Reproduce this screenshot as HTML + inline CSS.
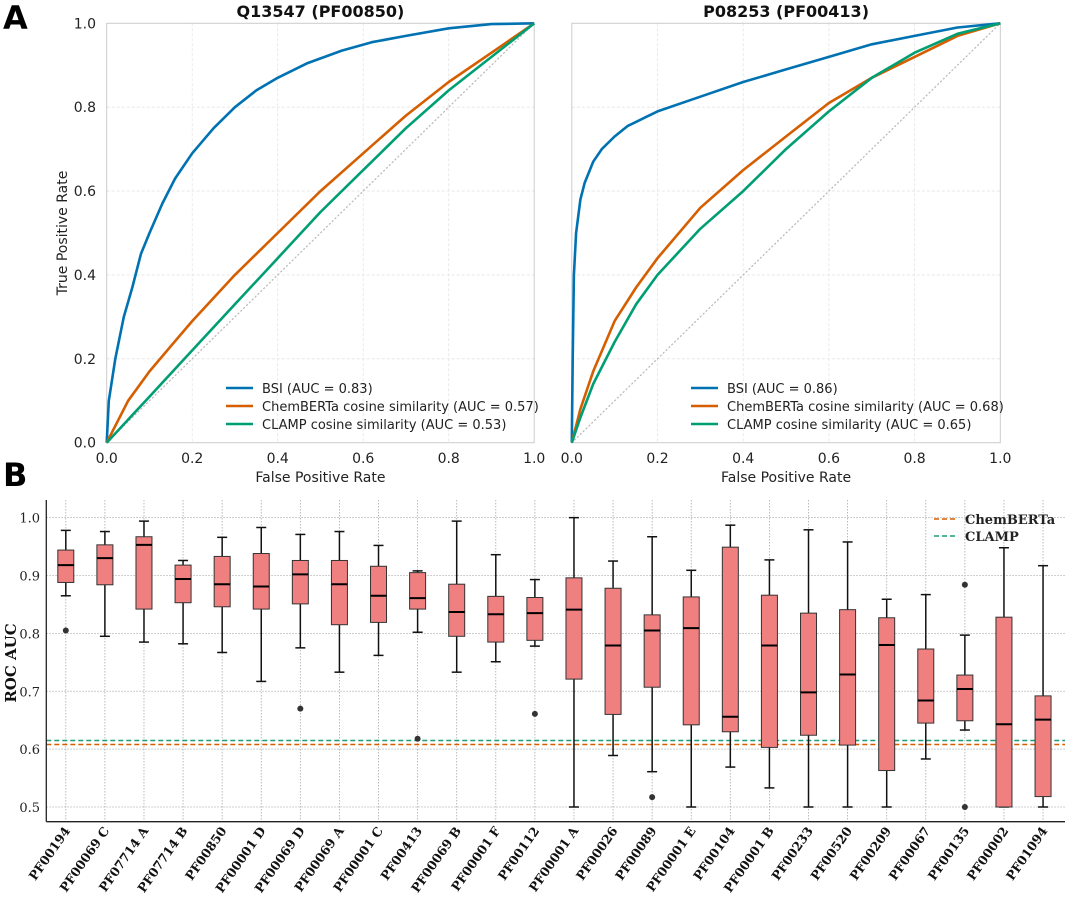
<!DOCTYPE html>
<html><head><meta charset="utf-8">
<style>
html,body{margin:0;padding:0;background:#fff;}
svg{display:block;}
.sans{font-family:"DejaVu Sans","Liberation Sans",sans-serif;}
.serif{font-family:"DejaVu Serif","Liberation Serif",serif;}
</style></head>
<body>
<svg id="fig" width="1065" height="897" viewBox="0 0 1065 897" xmlns="http://www.w3.org/2000/svg">
<text x="3" y="29" class="sans" font-size="32" font-weight="bold">A</text>
<text x="3" y="486" class="sans" font-size="32" font-weight="bold">B</text>
<g id="roc"></g>
<g id="box"></g>
</svg>
<script>
// ---------- ROC data ----------
const rocTitles = ["Q13547 (PF00850)", "P08253 (PF00413)"];
const seriesNames = ["BSI", "ChemBERTa cosine similarity", "CLAMP cosine similarity"];
const seriesColors = ["#0072b2", "#d55e00", "#009e73"];
const aucLeft = [0.83, 0.57, 0.53];
const aucRight = [0.86, 0.68, 0.65];
const leftBsiFpr = [0,0.005,0.02,0.04,0.06,0.08,0.1,0.13,0.16,0.2,0.25,0.3,0.35,0.4,0.47,0.55,0.62,0.7,0.8,0.9,1];
const leftBsiTpr = [0,0.1,0.2,0.3,0.37,0.45,0.5,0.57,0.63,0.69,0.75,0.8,0.84,0.87,0.905,0.935,0.955,0.97,0.988,0.998,1];
const leftChemFpr = [0,0.05,0.1,0.15,0.2,0.3,0.4,0.5,0.6,0.7,0.8,0.9,1];
const leftChemTpr = [0,0.1,0.17,0.23,0.29,0.4,0.5,0.6,0.69,0.78,0.86,0.93,1];
const leftClampFpr = [0,0.1,0.2,0.3,0.4,0.5,0.6,0.7,0.8,0.9,1];
const leftClampTpr = [0,0.11,0.22,0.33,0.44,0.55,0.65,0.75,0.84,0.92,1];
const rightBsiFpr = [0,0.002,0.005,0.01,0.02,0.03,0.05,0.07,0.1,0.13,0.17,0.2,0.3,0.4,0.5,0.6,0.7,0.8,0.9,1];
const rightBsiTpr = [0,0.2,0.4,0.5,0.58,0.62,0.67,0.7,0.73,0.755,0.775,0.79,0.825,0.86,0.89,0.92,0.95,0.97,0.99,1];
const rightChemFpr = [0,0.02,0.05,0.1,0.15,0.2,0.3,0.4,0.5,0.6,0.7,0.8,0.9,1];
const rightChemTpr = [0,0.08,0.17,0.29,0.37,0.44,0.56,0.65,0.73,0.81,0.87,0.92,0.97,1];
const rightClampFpr = [0,0.02,0.05,0.1,0.15,0.2,0.3,0.4,0.5,0.6,0.7,0.8,0.9,1];
const rightClampTpr = [0,0.06,0.14,0.24,0.33,0.4,0.51,0.6,0.7,0.79,0.87,0.93,0.975,1];
const rocTicks = [0,0.2,0.4,0.6,0.8,1.0];

// ---------- Box data ----------
const families = ["PF00194","PF00069 C","PF07714 A","PF07714 B","PF00850","PF00001 D","PF00069 D","PF00069 A","PF00001 C","PF00413","PF00069 B","PF00001 F","PF00112","PF00001 A","PF00026","PF00089","PF00001 E","PF00104","PF00001 B","PF00233","PF00520","PF00209","PF00067","PF00135","PF00002","PF01094"];
const whiskerLow = [0.865,0.795,0.785,0.782,0.767,0.717,0.775,0.733,0.762,0.802,0.733,0.751,0.778,0.5,0.589,0.561,0.5,0.569,0.533,0.5,0.5,0.5,0.583,0.633,0.5,0.5];
const q1 = [0.888,0.884,0.842,0.853,0.846,0.842,0.851,0.815,0.819,0.842,0.795,0.785,0.788,0.721,0.660,0.707,0.642,0.630,0.603,0.624,0.607,0.563,0.645,0.649,0.5,0.518];
const medians = [0.918,0.930,0.953,0.894,0.885,0.881,0.902,0.885,0.865,0.861,0.837,0.833,0.835,0.841,0.779,0.805,0.809,0.656,0.779,0.698,0.729,0.780,0.684,0.704,0.643,0.651];
const q3 = [0.944,0.953,0.967,0.918,0.933,0.938,0.926,0.926,0.916,0.905,0.885,0.864,0.862,0.896,0.878,0.832,0.863,0.949,0.866,0.835,0.841,0.827,0.773,0.728,0.828,0.692];
const whiskerHigh = [0.978,0.976,0.994,0.926,0.966,0.983,0.971,0.976,0.952,0.908,0.994,0.936,0.893,1.0,0.925,0.967,0.909,0.987,0.927,0.979,0.958,0.859,0.867,0.797,0.948,0.917];
const outlierIdx = [0,6,9,12,15,23,23];
const outlierVal = [0.805,0.670,0.618,0.661,0.517,0.884,0.5];
const refNames = ["ChemBERTa","CLAMP"];
const refValues = [0.608,0.615];
const refColors = ["#d55e00","#1a9e77"];
const boxTicks = [0.5,0.6,0.7,0.8,0.9,1.0];

const NS = "http://www.w3.org/2000/svg";
function mk(tag, attrs, parent){const e=document.createElementNS(NS,tag);for(const k in attrs)e.setAttribute(k,attrs[k]);parent.appendChild(e);return e;}

// ---------- ROC panels ----------
const rocG = document.getElementById('roc');
const panels = [
 {x0:106.7,x1:534.2,fpr:[leftBsiFpr,leftChemFpr,leftClampFpr],tpr:[leftBsiTpr,leftChemTpr,leftClampTpr],auc:aucLeft,legX:226,showY:true},
 {x0:571.8,x1:1000.3,fpr:[rightBsiFpr,rightChemFpr,rightClampFpr],tpr:[rightBsiTpr,rightChemTpr,rightClampTpr],auc:aucRight,legX:691,showY:false}
];
const yTop=23.3, yBot=442.7;
panels.forEach((p,pi)=>{
  const g=mk('g',{},rocG);
  
  
  const sx=v=>p.x0+v*(p.x1-p.x0), sy=v=>yBot-v*(yBot-yTop);
  rocTicks.forEach(t=>{
    if(t>0&&t<1){
      const gl=mk('line',{x1:sx(t),x2:sx(t),y1:yTop,y2:yBot,stroke:'#e4e4e4','stroke-width':0.8,'stroke-dasharray':'3,2'},g);
      
      
      const gl2=mk('line',{x1:p.x0,x2:p.x1,y1:sy(t),y2:sy(t),stroke:'#e4e4e4','stroke-width':0.8,'stroke-dasharray':'3,2'},g);
      
      
    }
    const tx=mk('text',{x:sx(t),y:463,'text-anchor':'middle','font-size':14,fill:'#222',class:'sans'},g);
    tx.textContent=t.toFixed(1);
    
    
    if(p.showY){
      const ty=mk('text',{x:96,y:sy(t)+5,'text-anchor':'end','font-size':14,fill:'#222',class:'sans'},g);
      ty.textContent=t.toFixed(1);
      
      
    }
  });
  const fr=mk('rect',{x:p.x0,y:yTop,width:p.x1-p.x0,height:yBot-yTop,fill:'none',stroke:'#cccccc','stroke-width':1},g);
  
  
  const diag=mk('line',{x1:sx(0),y1:sy(0),x2:sx(1),y2:sy(1),stroke:'#bbbbbb','stroke-width':1.3,'stroke-dasharray':'1,3','stroke-linecap':'round'},g);
  
  
  for(let s=0;s<3;s++){
    const pts=p.fpr[s].map((f,i)=>sx(f).toFixed(1)+','+sy(p.tpr[s][i]).toFixed(1)).join(' ');
    const pl=mk('polyline',{points:pts,fill:'none',stroke:seriesColors[s],'stroke-width':2.6,'stroke-linejoin':'round'},g);
    
    
    const ly=388+s*18;
    const ll=mk('line',{x1:p.legX,x2:p.legX+27,y1:ly,y2:ly,stroke:seriesColors[s],'stroke-width':2.6},g);
    
    
    const lt=mk('text',{x:p.legX+36,y:ly+5,'font-size':13,fill:'#222',class:'sans'},g);
    lt.textContent=seriesNames[s]+' (AUC = '+p.auc[s].toFixed(2)+')';
    
    
  }
  const tt=mk('text',{x:(p.x0+p.x1)/2,y:17,'text-anchor':'middle','font-size':16,'font-weight':'bold',fill:'#111',class:'sans'},g);
  tt.textContent=rocTitles[pi];
  
  
  const xl=mk('text',{x:(p.x0+p.x1)/2,y:482,'text-anchor':'middle','font-size':14,fill:'#222',class:'sans'},g);
  xl.textContent='False Positive Rate';
  
  
  if(p.showY){
    const yl=mk('text',{x:0,y:0,'text-anchor':'middle','font-size':14,fill:'#222',class:'sans',transform:'translate(67,'+((yTop+yBot)/2)+') rotate(-90)'},g);
    yl.textContent='True Positive Rate';
    
    
  }
});

// ---------- Box plot ----------
const bg=document.getElementById('box');
const bx0=46.3, step=39.09, firstX=65.8, bBot=821.7;
const vy=v=>807-(v-0.5)*578.7;
const cx=i=>firstX+i*step;
boxTicks.forEach(t=>{
  const gl=mk('line',{x1:bx0,x2:1065,y1:vy(t),y2:vy(t),stroke:'#aaa','stroke-width':0.8,'stroke-dasharray':'1.5,1.5'},bg);
  
  
  const tl=mk('text',{x:40,y:vy(t)+5,'text-anchor':'end','font-size':13,fill:'#222',class:'serif'},bg);
  tl.textContent=t.toFixed(1);
  
  
});
families.forEach((f,i)=>{
  const gl=mk('line',{x1:cx(i),x2:cx(i),y1:500,y2:bBot,stroke:'#aaa','stroke-width':0.8,'stroke-dasharray':'1.5,1.5'},bg);
  
  
});
refValues.forEach((v,i)=>{
  const l=mk('line',{x1:bx0,x2:1065,y1:vy(v),y2:vy(v),stroke:refColors[i],'stroke-width':1.5,'stroke-dasharray':'5,3'},bg);
  
  
});
const bw=16, cw=8;
families.forEach((f,i)=>{
  const g=mk('g',{},bg);
  
  
  const x=cx(i);
  mk('line',{x1:x,x2:x,y1:vy(whiskerHigh[i]),y2:vy(q3[i]),stroke:'#111','stroke-width':1.5},g);
  mk('line',{x1:x,x2:x,y1:vy(q1[i]),y2:vy(whiskerLow[i]),stroke:'#111','stroke-width':1.5},g);
  mk('line',{x1:x-cw/2-1,x2:x+cw/2+1,y1:vy(whiskerHigh[i]),y2:vy(whiskerHigh[i]),stroke:'#111','stroke-width':1.5},g);
  mk('line',{x1:x-cw/2-1,x2:x+cw/2+1,y1:vy(whiskerLow[i]),y2:vy(whiskerLow[i]),stroke:'#111','stroke-width':1.5},g);
  mk('rect',{x:x-bw/2,y:vy(q3[i]),width:bw,height:vy(q1[i])-vy(q3[i]),fill:'#f08080',stroke:'#333','stroke-width':1},g);
  mk('line',{x1:x-bw/2,x2:x+bw/2,y1:vy(medians[i]),y2:vy(medians[i]),stroke:'#000','stroke-width':2},g);
  const tl=mk('text',{x:0,y:0,'text-anchor':'end','font-size':12.5,'font-weight':'bold',fill:'#111',class:'serif',transform:'translate('+(x+5)+','+(bBot+9)+') rotate(-55)'},bg);
  tl.textContent=f;
  
  
});
outlierIdx.forEach((ix,k)=>{
  const c=mk('circle',{cx:cx(ix),cy:vy(outlierVal[k]),r:3,fill:'#333'},bg);
  
  
});
const sp1=mk('line',{x1:bx0,x2:bx0,y1:500,y2:bBot,stroke:'#222','stroke-width':1.3},bg);


const sp2=mk('line',{x1:bx0,x2:1065,y1:bBot,y2:bBot,stroke:'#222','stroke-width':1.3},bg);


const yt=mk('text',{x:0,y:0,'text-anchor':'middle','font-size':15,'font-weight':'bold',fill:'#111',class:'serif',transform:'translate(16,663) rotate(-90)'},bg);
yt.textContent='ROC AUC';


refNames.forEach((n,i)=>{
  const ly=519+i*17;
  const l=mk('line',{x1:934,x2:956,y1:ly,y2:ly,stroke:refColors[i],'stroke-width':1.5,'stroke-dasharray':'5,3'},bg);
  
  
  const t=mk('text',{x:965,y:ly+5,'font-size':13,'font-weight':'bold',fill:'#222',class:'serif'},bg);
  t.textContent=n;
  
  
});
</script>
</body></html>
